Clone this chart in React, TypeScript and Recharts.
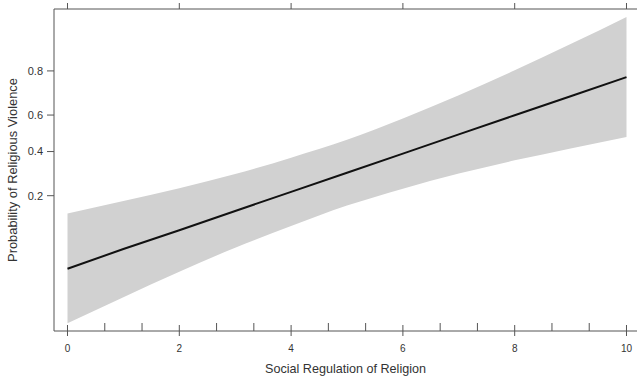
import { ComposedChart, Area, Line, XAxis, YAxis } from "recharts";

// predicted probability and 95% band at integer x
const X_VALUES = [0, 1, 2, 3, 4, 5, 6, 7, 8, 9, 10];
const FIT_PROB = [0.047, 0.071, 0.104, 0.151, 0.214, 0.294, 0.389, 0.494, 0.599, 0.695, 0.777];
const LOWER_PROB = [0.0145, 0.0255, 0.044, 0.073, 0.113, 0.167, 0.226, 0.29, 0.354, 0.417, 0.48];
const UPPER_PROB = [0.144, 0.182, 0.228, 0.288, 0.368, 0.464, 0.582, 0.7, 0.802, 0.879, 0.93];

const X_LABEL_TICKS = [0, 2, 4, 6, 8, 10];
const X_RUG_TICKS = [0, 2 / 3, 4 / 3, 2, 8 / 3, 10 / 3, 4, 14 / 3, 16 / 3, 6, 20 / 3, 22 / 3, 8, 26 / 3, 28 / 3, 10];
const Y_PROB_TICKS = [0.2, 0.4, 0.6, 0.8];

const AXIS = "#555";
const TEXT = "#333";

const logit = (p: number) => Math.log(p / (1 - p));
const invLogit = (v: number) => 1 / (1 + Math.exp(-v));

const data = X_VALUES.map((x, i) => ({
  x,
  fit: logit(FIT_PROB[i]),
  band: [logit(LOWER_PROB[i]), logit(UPPER_PROB[i])],
}));

function BottomTick(props: any) {
  const { x, y, payload } = props;
  const major = X_LABEL_TICKS.includes(payload.value);
  return (
    <g>
      <line x1={x} x2={x} y1={y} y2={y - (major ? 6 : 8)} stroke={AXIS} />
      {major && <line x1={x} x2={x} y1={y} y2={y + 5} stroke={AXIS} />}
      {major && (
        <text x={x} y={y + 21} textAnchor="middle" fontSize={10} fill={TEXT}>
          {payload.value}
        </text>
      )}
    </g>
  );
}

export default function App() {
  return (
    <div
      style={{
        position: "absolute",
        left: 0,
        top: 0,
        width: 637,
        height: 379,
        background: "#fff",
        fontFamily: "'Liberation Sans', Arial, sans-serif",
      }}
    >
      <ComposedChart width={637} height={379} data={data} margin={{ top: 0, right: 0, bottom: 0, left: 0 }}>
        <XAxis
          xAxisId="top"
          orientation="top"
          dataKey="x"
          type="number"
          domain={[-0.2415, 10.188]}
          allowDataOverflow
          ticks={X_LABEL_TICKS}
          interval={0}
          height={9}
          tickSize={6}
          tickFormatter={() => ""}
          axisLine={{ stroke: AXIS }}
          tickLine={{ stroke: AXIS }}
        />
        <XAxis
          xAxisId="bottom"
          dataKey="x"
          type="number"
          domain={[-0.2415, 10.188]}
          allowDataOverflow
          ticks={X_RUG_TICKS}
          interval={0}
          height={48}
          tickSize={0}
          tickMargin={0}
          tickLine={false}
          tick={<BottomTick />}
          axisLine={{ stroke: AXIS }}
          label={{
            value: "Social Regulation of Religion",
            position: "insideBottom",
            offset: 6,
            fontSize: 12.6,
            fill: TEXT,
          }}
        />
        <YAxis
          type="number"
          width={54}
          domain={[-4.393, 2.762]}
          allowDataOverflow
          ticks={Y_PROB_TICKS.map(logit)}
          interval={0}
          tickSize={7}
          tickMargin={4}
          tickFormatter={(v: number) => invLogit(v).toFixed(1)}
          tick={{ fontSize: 11, fill: TEXT }}
          axisLine={{ stroke: AXIS }}
          tickLine={{ stroke: AXIS }}
          label={{
            value: "Probability of Religious Violence",
            angle: -90,
            position: "insideLeft",
            offset: 12,
            fontSize: 12.9,
            fill: TEXT,
            style: { textAnchor: "middle" },
          }}
        />
        <Area
          xAxisId="bottom"
          type="monotone"
          dataKey="band"
          fill="#d1d1d1"
          fillOpacity={1}
          stroke="none"
          isAnimationActive={false}
        />
        <Line
          xAxisId="bottom"
          type="linear"
          dataKey="fit"
          stroke="#111"
          strokeWidth={2}
          dot={false}
          isAnimationActive={false}
        />
      </ComposedChart>
    </div>
  );
}
